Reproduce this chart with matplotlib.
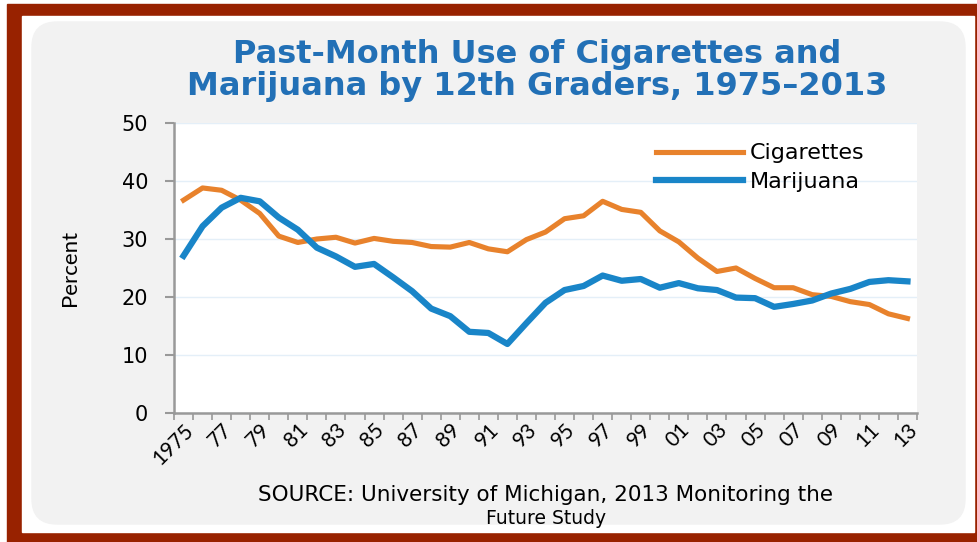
import matplotlib
matplotlib.use("Agg")
import matplotlib.pyplot as plt
from matplotlib.patches import Rectangle, FancyBboxPatch

years = list(range(1975, 2014))
cigarettes = [36.7, 38.8, 38.4, 36.7, 34.4, 30.5, 29.4, 30.0, 30.3, 29.3,
              30.1, 29.6, 29.4, 28.7, 28.6, 29.4, 28.3, 27.8, 29.9, 31.2,
              33.5, 34.0, 36.5, 35.1, 34.6, 31.4, 29.5, 26.7, 24.4, 25.0,
              23.2, 21.6, 21.6, 20.4, 20.1, 19.2, 18.7, 17.1, 16.3]
marijuana = [27.1, 32.2, 35.4, 37.1, 36.5, 33.7, 31.6, 28.5, 27.0, 25.2,
             25.7, 23.4, 21.0, 18.0, 16.7, 14.0, 13.8, 11.9, 15.5, 19.0,
             21.2, 21.9, 23.7, 22.8, 23.1, 21.6, 22.4, 21.5, 21.2, 19.9,
             19.8, 18.3, 18.8, 19.4, 20.6, 21.4, 22.6, 22.9, 22.7]
tick_labels = ["1975", "77", "79", "81", "83", "85", "87", "89", "91", "93",
               "95", "97", "99", "01", "03", "05", "07", "09", "11", "13"]

W, H = 977, 542
fig = plt.figure(figsize=(W / 100, H / 100), dpi=100)

# background frame drawn in pixel coords
bg = fig.add_axes([0, 0, 1, 1])
bg.set_xlim(0, W)
bg.set_ylim(H, 0)
bg.axis("off")
bg.add_patch(Rectangle((7, 4), W - 7, H - 4, color="#982200"))
bg.add_patch(Rectangle((22, 16), 952, 516, color="white"))
bg.add_patch(FancyBboxPatch((32, 22), 933, 502,
                            boxstyle="round,pad=0,rounding_size=25",
                            color="#F2F2F2"))

ax = fig.add_axes([174 / W, 1 - 413 / H, (917 - 174) / W, (413 - 123) / H])
ax.set_facecolor("white")
x = list(range(len(years)))
ax.plot(x, cigarettes, color="#E8822C", lw=3.7, label="Cigarettes",
        solid_joinstyle="round", zorder=3)
ax.plot(x, marijuana, color="#1985C8", lw=4.5, label="Marijuana",
        solid_joinstyle="round", zorder=3)

ax.set_xlim(-0.5, len(years) - 0.5)
ax.set_ylim(0, 50)
ax.set_yticks(range(0, 51, 10))
ax.tick_params(axis="y", labelsize=15, length=6.5, color="#999999",
               width=1.5, pad=12)
ax.set_xticks(x[::2])
ax.set_xticklabels(tick_labels, rotation=45, ha="right",
                   rotation_mode="anchor", fontfamily="Lato", fontsize=15)
ax.set_xticks([i - 0.5 for i in range(len(years) + 1)], minor=True)
ax.tick_params(axis="x", which="major", length=0, pad=5)
ax.tick_params(axis="x", which="minor", length=5, color="#999999",
               width=1.2)
ax.grid(axis="y", color="#E4EFF8", lw=1)
ax.set_axisbelow(True)
for side in ["top", "right"]:
    ax.spines[side].set_visible(False)
for side in ["left", "bottom"]:
    ax.spines[side].set_color("#999999")
    ax.spines[side].set_linewidth(1.8)

ax.set_ylabel("Percent", fontfamily="Lato", fontsize=16, labelpad=30)

leg = ax.legend(loc="upper left", bbox_to_anchor=(0.649, 0.93),
                frameon=False, fontsize=16, handlelength=3.9,
                handletextpad=0.3, labelspacing=0.4, borderpad=0,
                borderaxespad=0)

fig.text(537 / W, 1 - 54 / H, "Past-Month Use of Cigarettes and",
         ha="center", va="center", fontweight="bold",
         fontsize=23, color="#2270B6")
fig.text(537 / W, 1 - 87 / H, "Marijuana by 12th Graders, 1975\u20132013",
         ha="center", va="center", fontweight="bold",
         fontsize=23, color="#2270B6")
fig.text(545 / W, 1 - 495 / H,
         "SOURCE: University of Michigan, 2013 Monitoring the",
         ha="center", va="center", fontsize=15.5)
fig.text(546 / W, 1 - 518 / H, "Future Study", ha="center", va="center",
         fontsize=13.5)

fig.savefig("out.png", dpi=100)
